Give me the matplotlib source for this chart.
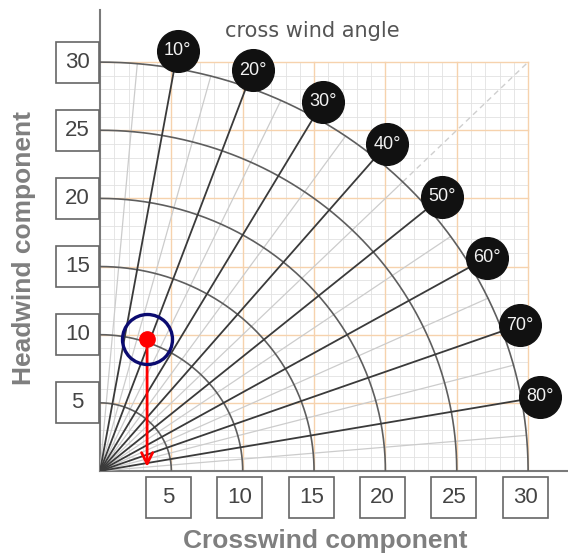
import numpy as np
import matplotlib
matplotlib.use('Agg')
from matplotlib import pyplot as plt
from matplotlib.patches import Rectangle

plt.rcParams['font.family'] = ['Liberation Sans', 'DejaVu Sans']

# chart values
headwind_ticks = [5, 10, 15, 20, 25, 30]
crosswind_ticks = [5, 10, 15, 20, 25, 30]
wind_angles = [10, 20, 30, 40, 50, 60, 70, 80]
minor_angles = [5, 15, 25, 35, 45, 55, 65, 75, 85]
speed_arcs = [5, 10, 15, 20, 25, 30]
point_crosswind = 3.3
point_headwind = 9.7

# pixel scale of the reference (px per knot)
sx = 14.27
sy = 13.63

fig = plt.figure(figsize=(5.68, 5.53), dpi=100)
ax = fig.add_axes([100/568, 82/553, 468/568, 461/553])
ax.set_xlim(0, 468/sx)
ax.set_ylim(0, 461/sy)

for s in ['top', 'right']:
    ax.spines[s].set_visible(False)
for s in ['left', 'bottom']:
    ax.spines[s].set_color('#7a7a7a')
    ax.spines[s].set_linewidth(1.5)
ax.set_xticks([])
ax.set_yticks([])

# fine grid
for v in range(1, 31):
    ax.plot([v, v], [0, 30], color='#e2e2e2', lw=0.6, zorder=1)
    ax.plot([0, 30], [v, v], color='#e2e2e2', lw=0.6, zorder=1)
# orange grid every 5
for v in crosswind_ticks:
    ax.plot([v, v], [0, 30], color='#f6d2ad', lw=1.0, zorder=2)
for v in headwind_ticks:
    ax.plot([0, 30], [v, v], color='#f6d2ad', lw=1.0, zorder=2)

# light radials
for a in minor_angles:
    t = np.radians(a)
    ax.plot([0, 30*np.sin(t)], [0, 30*np.cos(t)], color='#cccccc', lw=0.9, zorder=3)
ax.plot([30*np.sin(np.radians(45)), 30], [30*np.cos(np.radians(45)), 30],
        color='#cfcfcf', lw=1.0, ls=(0, (4, 3)), zorder=3)

# speed arcs
th = np.radians(np.linspace(0, 90, 200))
for r in speed_arcs:
    ax.plot(r*np.sin(th), r*np.cos(th), color='#5e5e5e', lw=1.2, zorder=4)

# angle lines and badges
for a in wind_angles:
    t = np.radians(a)
    ax.plot([0, 31.3*np.sin(t)], [0, 31.3*np.cos(t)], color='#3a3a3a', lw=1.3, zorder=5)
    ax.plot(31.3*np.sin(t), 31.3*np.cos(t), 'o', ms=30, color='#111111', zorder=6, clip_on=False)
    ax.text(31.3*np.sin(t), 31.3*np.cos(t), str(a) + '°', color='#f2f2f2', fontsize=13,
            ha='center', va='center', zorder=7, clip_on=False)

ax.text(14.9, 32.3, 'cross wind angle', family='DejaVu Sans', fontsize=15,
        color='#555555', ha='center', va='center')

# tick boxes
for v in headwind_ticks:
    ax.add_patch(Rectangle((-44/sx, v - 1.5), 43/sx, 3.0, fill=True, facecolor='white',
                           edgecolor='#666666', lw=1.2, clip_on=False, zorder=8))
    ax.text(-22.5/sx, v, str(v), fontsize=16, color='#444444', ha='center', va='center',
            clip_on=False, zorder=9)
for v in crosswind_ticks:
    ax.add_patch(Rectangle((v - 0.2 - 1.58, -3.45), 3.16, 3.0, fill=True, facecolor='white',
                           edgecolor='#666666', lw=1.2, clip_on=False, zorder=8))
    ax.text(v - 0.2, -1.95, str(v), fontsize=16, color='#444444', ha='center', va='center',
            clip_on=False, zorder=9)

# example point
ax.annotate('', xy=(point_crosswind, 0.1), xytext=(point_crosswind, point_headwind),
            arrowprops=dict(arrowstyle='->,head_length=0.8,head_width=0.4', color='red', lw=2),
            zorder=10)
ax.plot(point_crosswind, point_headwind, 'o', ms=11, color='red', zorder=11)
ax.plot(point_crosswind, point_headwind, 'o', ms=36, mfc='none', mec='#0b0b70', mew=2.4, zorder=11)

fig.text(325/568, 1 - 541/553, 'Crosswind component', fontsize=19, fontweight='bold',
         color='#7f7f7f', ha='center', va='center')
fig.text(24/568, 1 - 248/553, 'Headwind component', fontsize=19, fontweight='bold',
         color='#7f7f7f', ha='center', va='center', rotation=90)

fig.savefig('out.png', dpi=100)
